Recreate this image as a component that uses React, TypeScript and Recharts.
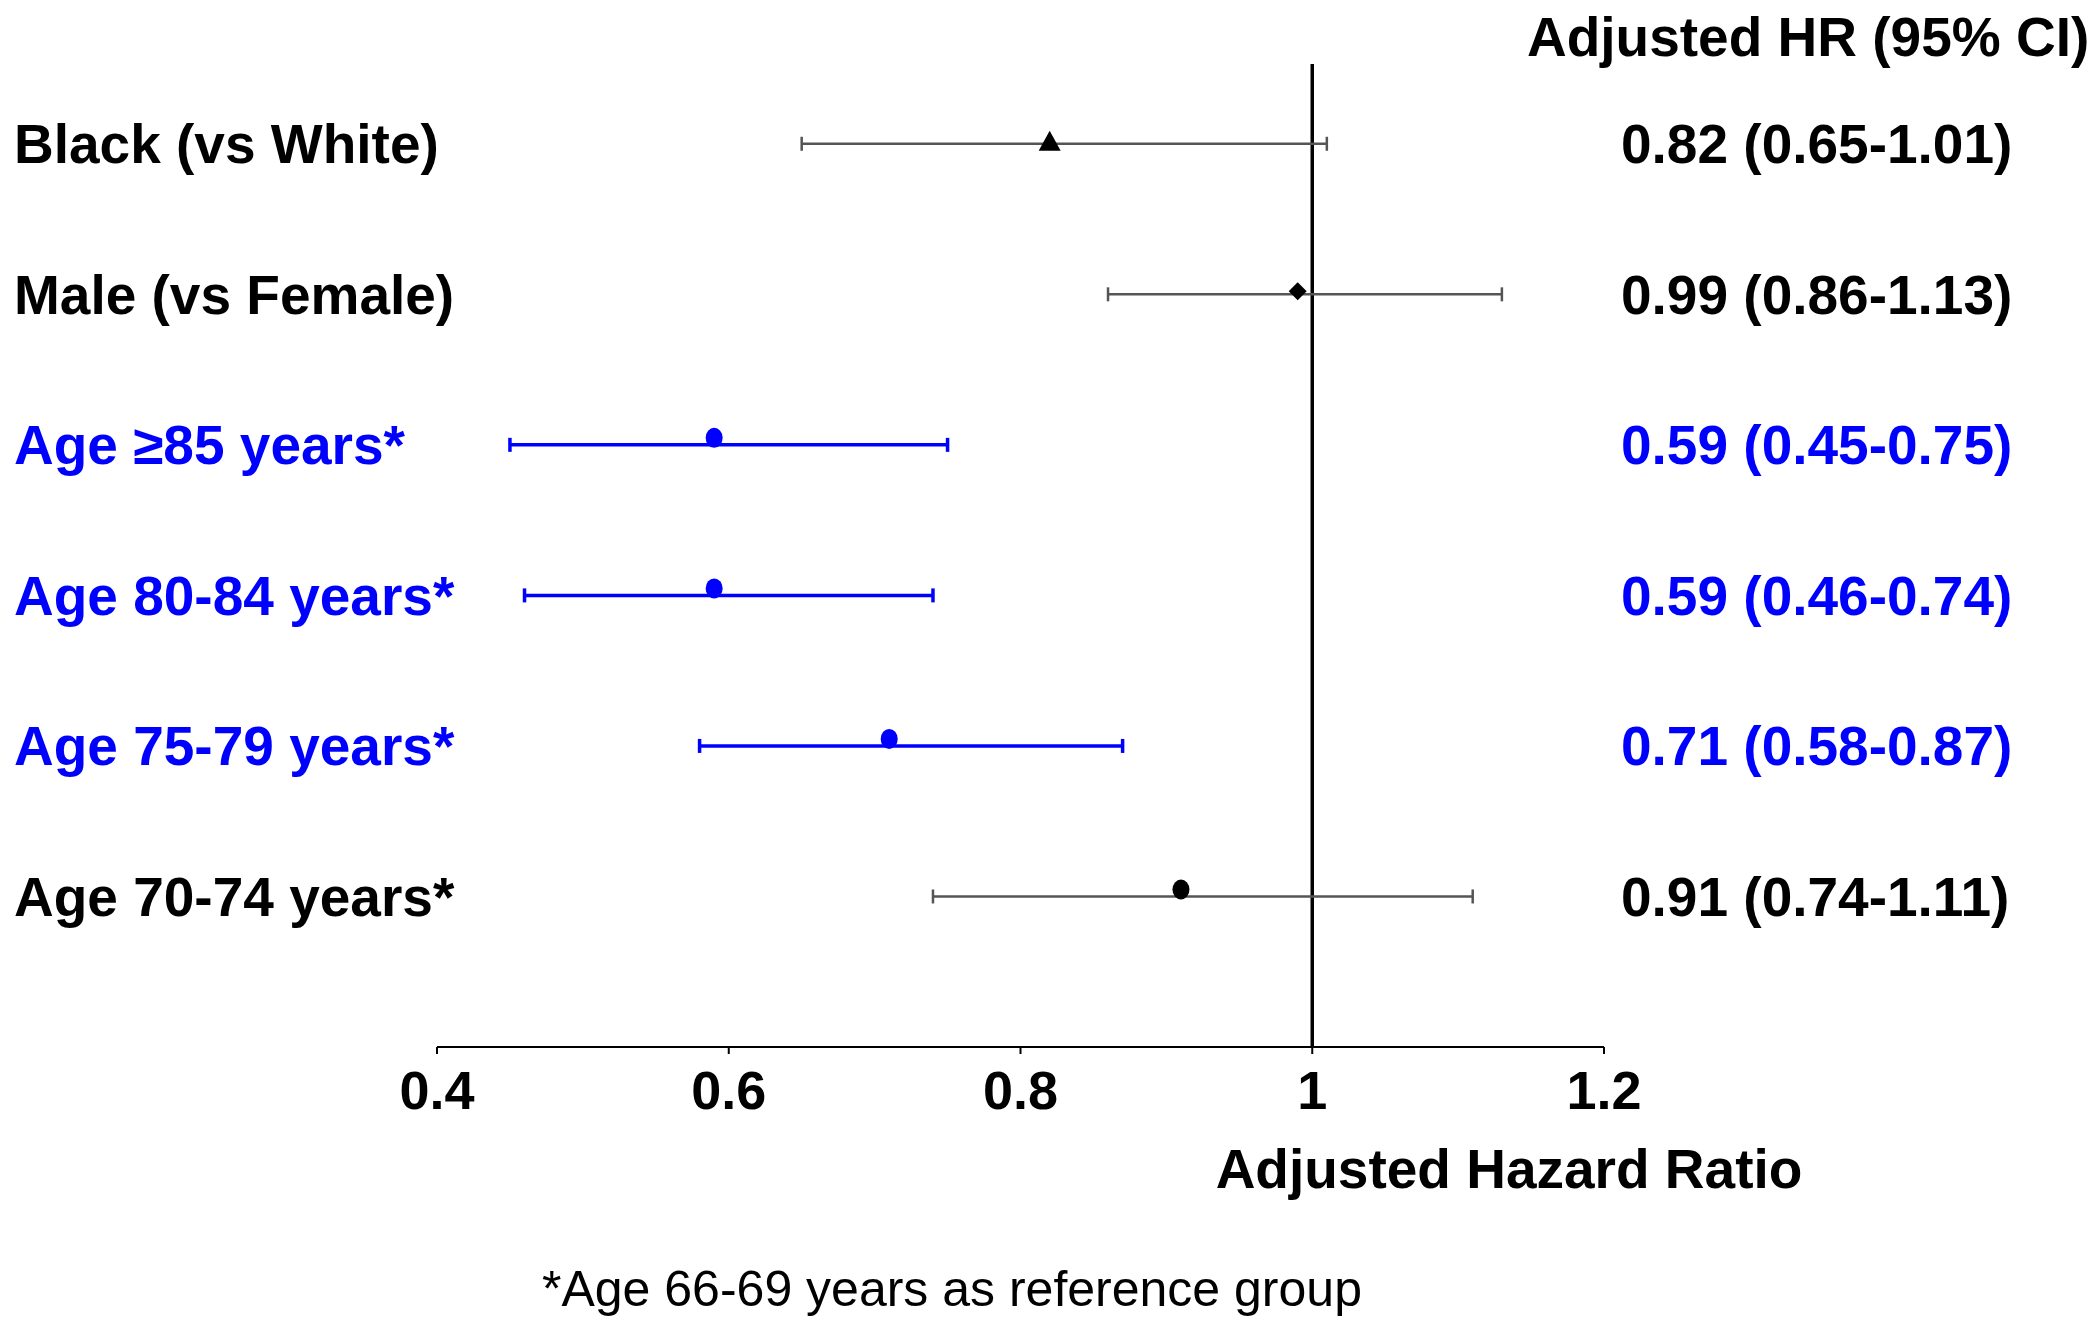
// Forest plot: adjusted hazard ratios with 95% CI per group, reference line at HR = 1.
import {
  ComposedChart,
  Scatter,
  ErrorBar,
  XAxis,
  YAxis,
  ReferenceLine,
} from 'recharts'

const groups = [
  'Black (vs White)',
  'Male (vs Female)',
  'Age ≥85 years*',
  'Age 80-84 years*',
  'Age 75-79 years*',
  'Age 70-74 years*',
]
const hr = [0.82, 0.99, 0.59, 0.59, 0.71, 0.91]
const ciLow = [0.65, 0.86, 0.45, 0.46, 0.58, 0.74]
const ciHigh = [1.01, 1.13, 0.75, 0.74, 0.87, 1.11]
const significant = [false, false, true, true, true, false]
const markers = ['triangle', 'diamond', 'circle', 'circle', 'circle', 'circle']
const xTicks = [0.4, 0.6, 0.8, 1, 1.2]
const rowTicks = [1, 2, 3, 4, 5, 6]

const W = 2100
const H = 1329
const BLUE = '#0000ff'
const FONT = '"Liberation Sans", Arial, sans-serif'

// fila 0 arriba → y = 6
const rows = groups.map((name, i) => ({
  name,
  x: hr[i],
  y: groups.length - i,
  err: [hr[i] - ciLow[i], ciHigh[i] - hr[i]],
  marker: markers[i],
  sig: significant[i],
  text: `${hr[i].toFixed(2)} (${ciLow[i].toFixed(2)}-${ciHigh[i].toFixed(2)})`,
}))
const blackRows = rows.filter((r) => !r.sig)
const blueRows = rows.filter((r) => r.sig)

function Marker(props: any) {
  const { cx, cy, payload } = props
  if (cx == null || cy == null) return null
  const fill = payload.sig ? BLUE : '#000'
  if (payload.marker === 'triangle') {
    const c = cy - 2
    return <path d={`M${cx},${c - 11} L${cx + 11},${c + 9} L${cx - 11},${c + 9} Z`} fill={fill} />
  }
  if (payload.marker === 'diamond') {
    const c = cy - 3
    return <path d={`M${cx},${c - 9} L${cx + 9},${c} L${cx},${c + 9} L${cx - 9},${c} Z`} fill={fill} />
  }
  return <ellipse cx={cx} cy={cy - 7} rx={8.5} ry={10} fill={fill} />
}

// Etiqueta de grupo a la izquierda y HR (IC 95%) a la derecha, en la altura de cada fila.
function renderRowTick(props: any) {
  const { y, payload } = props
  const row = rows.find((r) => r.y === payload.value)
  if (!row) return <g />
  const color = row.sig ? BLUE : '#000'
  return (
    <g>
      <text x={14} y={y} dy="0.35em" fontSize={55} fontWeight="bold" fontFamily={FONT} fill={color}>
        {row.name}
      </text>
      <text x={1621} y={y} dy="0.35em" fontSize={55} fontWeight="bold" fontFamily={FONT} fill={color}>
        {row.text}
      </text>
    </g>
  )
}

export default function App() {
  return (
    <div style={{ position: 'absolute', left: 0, top: 0, width: W, height: H, background: '#fff' }}>
      <ComposedChart
        width={W}
        height={H}
        margin={{ top: 64, right: 496, bottom: 222, left: 427 }}
      >
        <XAxis
          type="number"
          dataKey="x"
          domain={[0.4, 1.2]}
          ticks={xTicks}
          allowDataOverflow
          height={60}
          stroke="#000"
          strokeWidth={2}
          tickSize={7}
          tickMargin={17}
          tickFormatter={(v) => String(v)}
          tick={{ fontSize: 54, fontWeight: 'bold', fontFamily: FONT, fill: '#000' }}
        />
        <YAxis
          type="number"
          dataKey="y"
          domain={[0, 6.53]}
          ticks={rowTicks}
          interval={0}
          width={10}
          axisLine={false}
          tickLine={false}
          tick={renderRowTick}
        />
        <ReferenceLine x={1} stroke="#000" strokeWidth={3.5} />
        <Scatter data={blackRows} shape={<Marker />} isAnimationActive={false}>
          <ErrorBar dataKey="err" direction="x" width={7} stroke="#555" strokeWidth={2.5} />
        </Scatter>
        <Scatter data={blueRows} shape={<Marker />} isAnimationActive={false}>
          <ErrorBar dataKey="err" direction="x" width={7} stroke={BLUE} strokeWidth={3.5} />
        </Scatter>
      </ComposedChart>
      <svg
        width={W}
        height={H}
        style={{ position: 'absolute', left: 0, top: 0, pointerEvents: 'none' }}
      >
        <text x={1527} y={37} dy="0.35em" fontSize={55} fontWeight="bold" fontFamily={FONT}>
          Adjusted HR (95% CI)
        </text>
        <text x={1509} y={1169} dy="0.35em" textAnchor="middle" fontSize={55} fontWeight="bold" fontFamily={FONT}>
          Adjusted Hazard Ratio
        </text>
        <text x={542} y={1288} dy="0.35em" fontSize={50} fontFamily={FONT}>
          *Age 66-69 years as reference group
        </text>
      </svg>
    </div>
  )
}
